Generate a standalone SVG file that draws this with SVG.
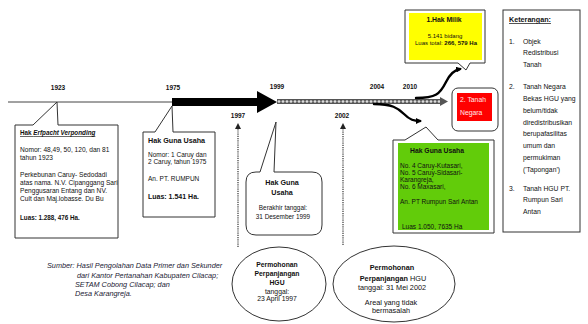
<svg xmlns="http://www.w3.org/2000/svg" width="588" height="324" viewBox="0 0 588 324">
<defs>
<style>
text{font-family:"Liberation Sans",Arial,sans-serif;fill:#111;font-size:6px}
.yr{font-size:6.5px;font-weight:bold;text-anchor:middle}
.b{font-weight:bold}
.u{text-decoration:underline}
.c{text-anchor:middle}
.it{font-style:italic}
.box{fill:#fff;stroke:#333;stroke-width:1}
.cur{fill:none;stroke:#000;stroke-width:2.4;stroke-linecap:round}
.dot{stroke:#333;stroke-width:1.2;stroke-dasharray:1.2,1}
#erfpacht text{font-size:6.6px}
#hgu1975 text{font-size:6.5px}
#keterangan text{font-size:6.8px}
#ellipse2002 text{font-size:7.3px}
#ellipse1997 text{font-size:6.8px}
#hgu1999 text{font-size:6.4px}
#hgu1999 text.b{font-size:7.2px}
#hgu2010 text{font-size:6.5px}
#sumber text{font-size:7.3px;font-style:italic;fill:#1a1a33}
</style>
<pattern id="hatch" patternUnits="userSpaceOnUse" x="277" y="99" width="4" height="5">
<rect width="4" height="5" fill="#555"/>
<ellipse cx="2" cy="2.5" rx="1.4" ry="1.2" fill="#ddd"/>
</pattern>
<marker id="ah" markerWidth="6" markerHeight="6" refX="4" refY="3" orient="auto" markerUnits="userSpaceOnUse">
<path d="M0,0 L6,3 L0,6 Z" fill="#000"/>
</marker>
<marker id="ad" markerWidth="6" markerHeight="6" refX="3" refY="3" orient="auto" markerUnits="userSpaceOnUse">
<path d="M0,0 L6,3 L0,6 Z" fill="#222"/>
</marker>
</defs>

<g id="connectors">
<line x1="8" y1="102" x2="172" y2="102" stroke="#444" stroke-width="1"/>
<polygon points="172,98 257,98 257,91 277,102 257,113 257,106 172,106" fill="#000"/>
<rect x="277" y="99" width="164" height="5" fill="url(#hatch)"/>
<polygon points="440,97 448,101.5 440,106" fill="#555"/>
<path class="cur" d="M374,104 C392,104 398,108 404,114 C410,120 414,121 420,121" marker-end="url(#ah)"/>
<path class="cur" d="M416,98 C436,98 440,94 446,82 C450,74 454,70 460,69" marker-end="url(#ah)"/>
<line class="dot" x1="238" y1="247" x2="238" y2="126" marker-end="url(#ad)"/>
<line class="dot" x1="343" y1="245" x2="343" y2="126" marker-end="url(#ad)"/>
</g>

<g id="years">
<text class="yr" x="58" y="90">1923</text>
<text class="yr" x="173" y="90">1975</text>
<text class="yr" x="277" y="89">1999</text>
<text class="yr" x="377" y="89">2004</text>
<text class="yr" x="410" y="89">2010</text>
<text class="yr" x="238" y="118">1997</text>
<text class="yr" x="342" y="118">2002</text>
</g>

<g id="erfpacht">
<path class="box" d="M15,125 L33,125 L57,102 L58,125 L118,125 L118,238 L15,238 Z"/>
<text class="b u" x="20" y="135" style="font-size:6.3px">Hak <tspan class="it">Erfpacht Verponding</tspan></text>
<text x="20" y="152">Nomor: 48,49, 50, 120, dan 81</text>
<text x="20" y="160">tahun 1923</text>
<text x="20" y="177">Perkebunan Caruy- Sedodadi</text>
<text x="20" y="185">atas nama. N.V. Cipanggang Sari</text>
<text x="20" y="193">Penggusaran Entang dan NV.</text>
<text x="20" y="201">Cult dan Maj.lobasse.  Du Bu</text>
<text class="b" x="20" y="220" style="font-size:6.3px">Luas: 1.288, 476 Ha.</text>
</g>

<g id="hgu1975">
<path class="box" d="M143,132 L155,132 L172,106 L173,132 L215,132 L215,217 L143,217 Z"/>
<text class="b" x="148" y="143" style="font-size:7.2px">Hak Guna Usaha</text>
<text x="148" y="157">Nomor: 1 Caruy dan</text>
<text x="148" y="164">2 Caruy, tahun 1975</text>
<text x="148" y="181">An. PT. RUMPUN</text>
<text class="b" x="148" y="199" style="font-size:7px">Luas: 1.541 Ha.</text>
</g>

<g id="hgu1999">
<path class="box" d="M256,172 L260,172 L276,122 L274,172 L312,172 Q322,172 322,182 L322,225 Q322,235 312,235 L256,235 Q246,235 246,225 L246,182 Q246,172 256,172 Z"/>
<text class="b c" x="282" y="185">Hak Guna</text>
<text class="b c" x="282" y="195">Usaha</text>
<text class="c" x="283" y="210">Berakhir tanggal:</text>
<text class="c" x="283" y="219">31 Desember 1999</text>
</g>

<g id="ellipse1997">
<ellipse class="box" cx="279" cy="284" rx="47" ry="37"/>
<text class="b c" x="277" y="267">Permohonan</text>
<text class="b c" x="277" y="276">Perpanjangan</text>
<text class="b c" x="277" y="285">HGU</text>
<text class="c" x="277" y="294">tanggal:</text>
<text class="c" x="277" y="301">23 April 1997</text>
</g>

<g id="ellipse2002">
<ellipse class="box" cx="394" cy="284" rx="61" ry="38"/>
<text class="b c" x="392" y="270">Permohonan</text>
<text class="c" x="393" y="281"><tspan class="b">Perpanjangan</tspan> HGU</text>
<text class="c" x="392" y="290">tanggal: 31 Mei 2002</text>
<text class="c" x="391" y="305">Areal yang tidak</text>
<text class="c" x="391" y="313">bermasalah</text>
</g>

<g id="hakmilik">
<path class="box" d="M405,10 L485,10 L485,63 L470,63 L466,70 L458,63 L405,63 Z"/>
<rect x="409" y="13" width="73" height="47" fill="#ffff00"/>
<text class="b c" x="444" y="22" style="font-size:6.8px">1.Hak Milik</text>
<text class="c" x="445" y="38">5.141 bidang</text>
<text class="c" x="446" y="45">Luas total: <tspan class="b">266, 579 Ha</tspan></text>
</g>

<g id="tanahnegara">
<rect class="box" x="452" y="88" width="46" height="43" rx="6"/>
<rect x="457" y="93" width="35" height="28" fill="#ff0000"/>
<text x="460" y="102" style="fill:#ffe8e8;font-size:6.8px">2. Tanah</text>
<text x="460" y="115" style="fill:#ffe8e8;font-size:6.8px">Negara</text>
</g>

<g id="hgu2010">
<path class="box" d="M393,140 L405,140 L426,127 L438,140 L494,140 L494,233 L393,233 Z"/>
<rect x="398" y="143" width="91" height="87" fill="#62cc0a"/>
<text class="b c" x="437" y="153" style="font-size:6.8px">Hak Guna Usaha</text>
<text x="400" y="168">No. 4 Caruy-Kutasari,</text>
<text x="400" y="175">No. 5 Caruy-Sidasari-</text>
<text x="400" y="182">Karangreja,</text>
<text x="400" y="189">No. 6 Maxasari,</text>
<text x="400" y="204">An. PT Rumpun Sari Antan</text>
<text x="402" y="229">Luas 1.050, 7635 Ha</text>
</g>

<g id="keterangan">
<rect class="box" x="503" y="10" width="77" height="222"/>
<text class="b u" x="509" y="22" style="font-size:7.2px">Keterangan:</text>
<text x="509" y="44">1.</text>
<text x="523" y="44">Objek</text>
<text x="523" y="55">Redistribusi</text>
<text x="523" y="67">Tanah</text>
<text x="509" y="89">2.</text>
<text x="523" y="89">Tanah Negara</text>
<text x="523" y="101">Bekas HGU yang</text>
<text x="523" y="113">belum/tidak</text>
<text x="523" y="125">diredistribusikan</text>
<text x="523" y="136">berupafasilitas</text>
<text x="523" y="148">umum dan</text>
<text x="523" y="160">permukiman</text>
<text x="523" y="172">('Tapongan')</text>
<text x="509" y="191">3.</text>
<text x="523" y="191">Tanah HGU PT.</text>
<text x="523" y="202">Rumpun Sari</text>
<text x="523" y="214">Antan</text>
</g>

<g id="sumber">
<text x="47" y="268">Sumber: Hasil Pengolahan Data Primer dan Sekunder</text>
<text x="77" y="278">dari Kantor Pertanahan Kabupaten Cilacap;</text>
<text x="75" y="287">SETAM Cobong Cilacap; dan</text>
<text x="75" y="296">Desa Karangreja.</text>
</g>
</svg>
